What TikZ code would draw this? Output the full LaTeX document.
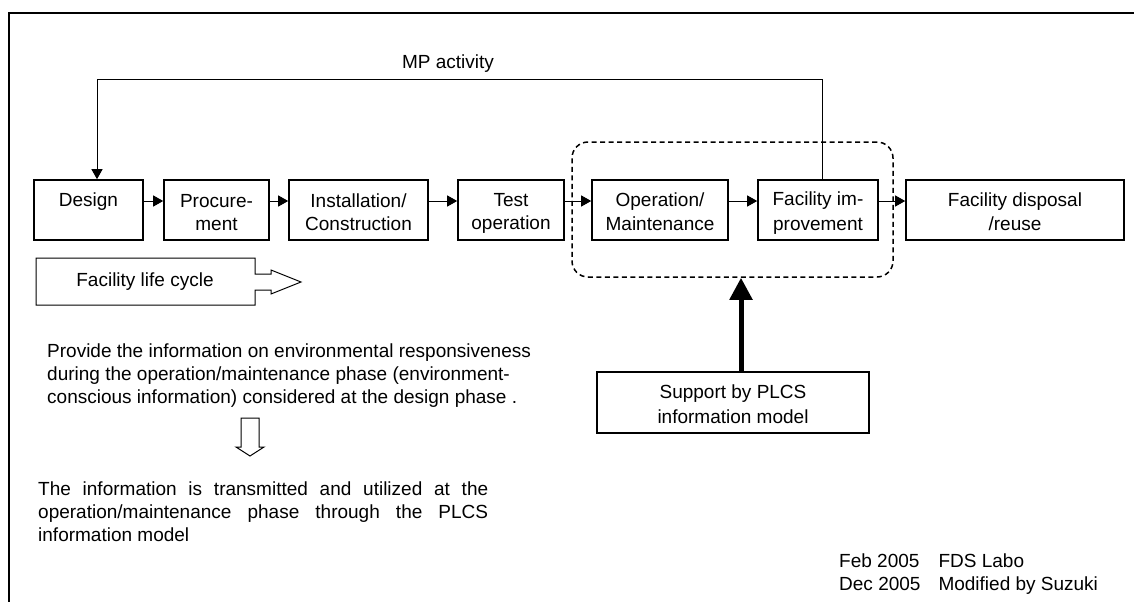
\documentclass[tikz,border=0pt]{standalone}
\usepackage{fontspec}
\setmainfont{Liberation Sans}
\usetikzlibrary{arrows.meta,calc}
\newcommand\myfs{\fontsize{19}{23}\selectfont}
\newcommand\bstrut{\rule[-3pt]{0pt}{23pt}}
\begin{document}
\begin{tikzpicture}[x=1pt,y=-1pt,
  box/.style={draw,line width=1.6pt,inner sep=0pt,align=center,minimum height=60pt,font=\myfs},
  conn/.style={line width=1pt,-{Triangle[length=10pt,width=11pt]}},
  bigconn/.style={line width=5pt,-{Triangle[length=22pt,width=22pt]}},
  grpbox/.style={draw,line width=1.5pt,dash pattern=on 5pt off 3.5pt,rounded corners=16pt,inner sep=0pt},
  lbl/.style={inner sep=0pt,font=\myfs},
  hollow/.style={draw,line width=1pt,fill=white}]
\useasboundingbox (0,0) rectangle (1134,602);
% frame
\draw[line width=1.5pt] (1134,13) -- (9,13) -- (9,602);
% life cycle boxes
\node[box,minimum width=109pt] (design) at (88.5,210) {\bstrut Design\\\bstrut};
\node[box,minimum width=105pt] (proc) at (216.5,210) {\bstrut Procure-\\\bstrut ment};
\node[box,minimum width=139pt] (inst) at (358.5,210) {\bstrut Installation/\\\bstrut Construction};
\node[box,minimum width=106pt] (test) at (511,210) {\bstrut Test\\\bstrut operation};
\node[box,minimum width=136pt] (opm) at (660,210) {\bstrut Operation/\\\bstrut Maintenance};
\node[box,minimum width=120pt] (fimp) at (818,210) {\bstrut Facility im-\\\bstrut provement};
\node[box,minimum width=218pt] (fdisp) at (1015,210) {\bstrut Facility disposal\\\bstrut /reuse};
% group
\node[grpbox,minimum width=321pt,minimum height=135pt] (grp) at (732.5,209.5) {};
% connectors
\coordinate (yl) at (0,201);
\draw[conn] (design.east |- yl) -- (proc.west |- yl);
\draw[conn] (proc.east |- yl) -- (inst.west |- yl);
\draw[conn] (inst.east |- yl) -- (test.west |- yl);
\draw[conn] (test.east |- yl) -- (opm.west |- yl);
\draw[conn] (opm.east |- yl) -- (fimp.west |- yl);
\draw[conn] (fimp.east |- yl) -- (fdisp.west |- yl);
% MP activity loop
\coordinate (mpa) at (822,79);
\coordinate (mpb) at (97,79);
\draw[conn] (fimp.north -| mpa) -- (mpa) -- (mpb) -- (design.north -| mpb);
\node[lbl,anchor=base] (mplbl) at (448,69) {MP activity};
% Facility life cycle arrow shape
\draw[line width=1pt] (36,258) -- (255,258) -- (255,274) -- (271,274) -- (271,270)
  -- (301,282) -- (271,294) -- (271,290) -- (255,290) -- (255,305) -- (36,305) -- cycle;
\node[lbl] (flc) at (145,282) {Facility life cycle};
% text blocks
\node[lbl,anchor=north west,align=left] (provide) at (47,341)
  {\strut Provide the information on environmental responsiveness\\
   during the operation/maintenance phase (environment-\\
   conscious information) considered at the design phase .};
\draw[hollow] (241,418) -- (259,418) -- (259,447) -- (264,447) -- (250,456)
  -- (236,447) -- (241,447) -- cycle;
\node[lbl,anchor=north west,text width=450pt,align=justify] (transmit) at (38,479)
  {\strut The information is transmitted and utilized at the\linebreak
   operation/maintenance phase through the PLCS\linebreak
   information model};
% support box
\node[box,minimum width=272pt,minimum height=61pt] (support) at (733,402.5)
  {\bstrut Support by PLCS\\\bstrut information model};
\coordinate (bx) at (741,0);
\draw[bigconn] (support.north -| bx) -- (grp.south -| bx);
% dates
\node[lbl,anchor=base west] (dates) at (839,567)
  {\begin{tabular}[t]{@{}l@{\hspace{18pt}}l@{}}Feb 2005 & FDS Labo\\ Dec 2005 & Modified by Suzuki\end{tabular}};
\end{tikzpicture}
\end{document}
